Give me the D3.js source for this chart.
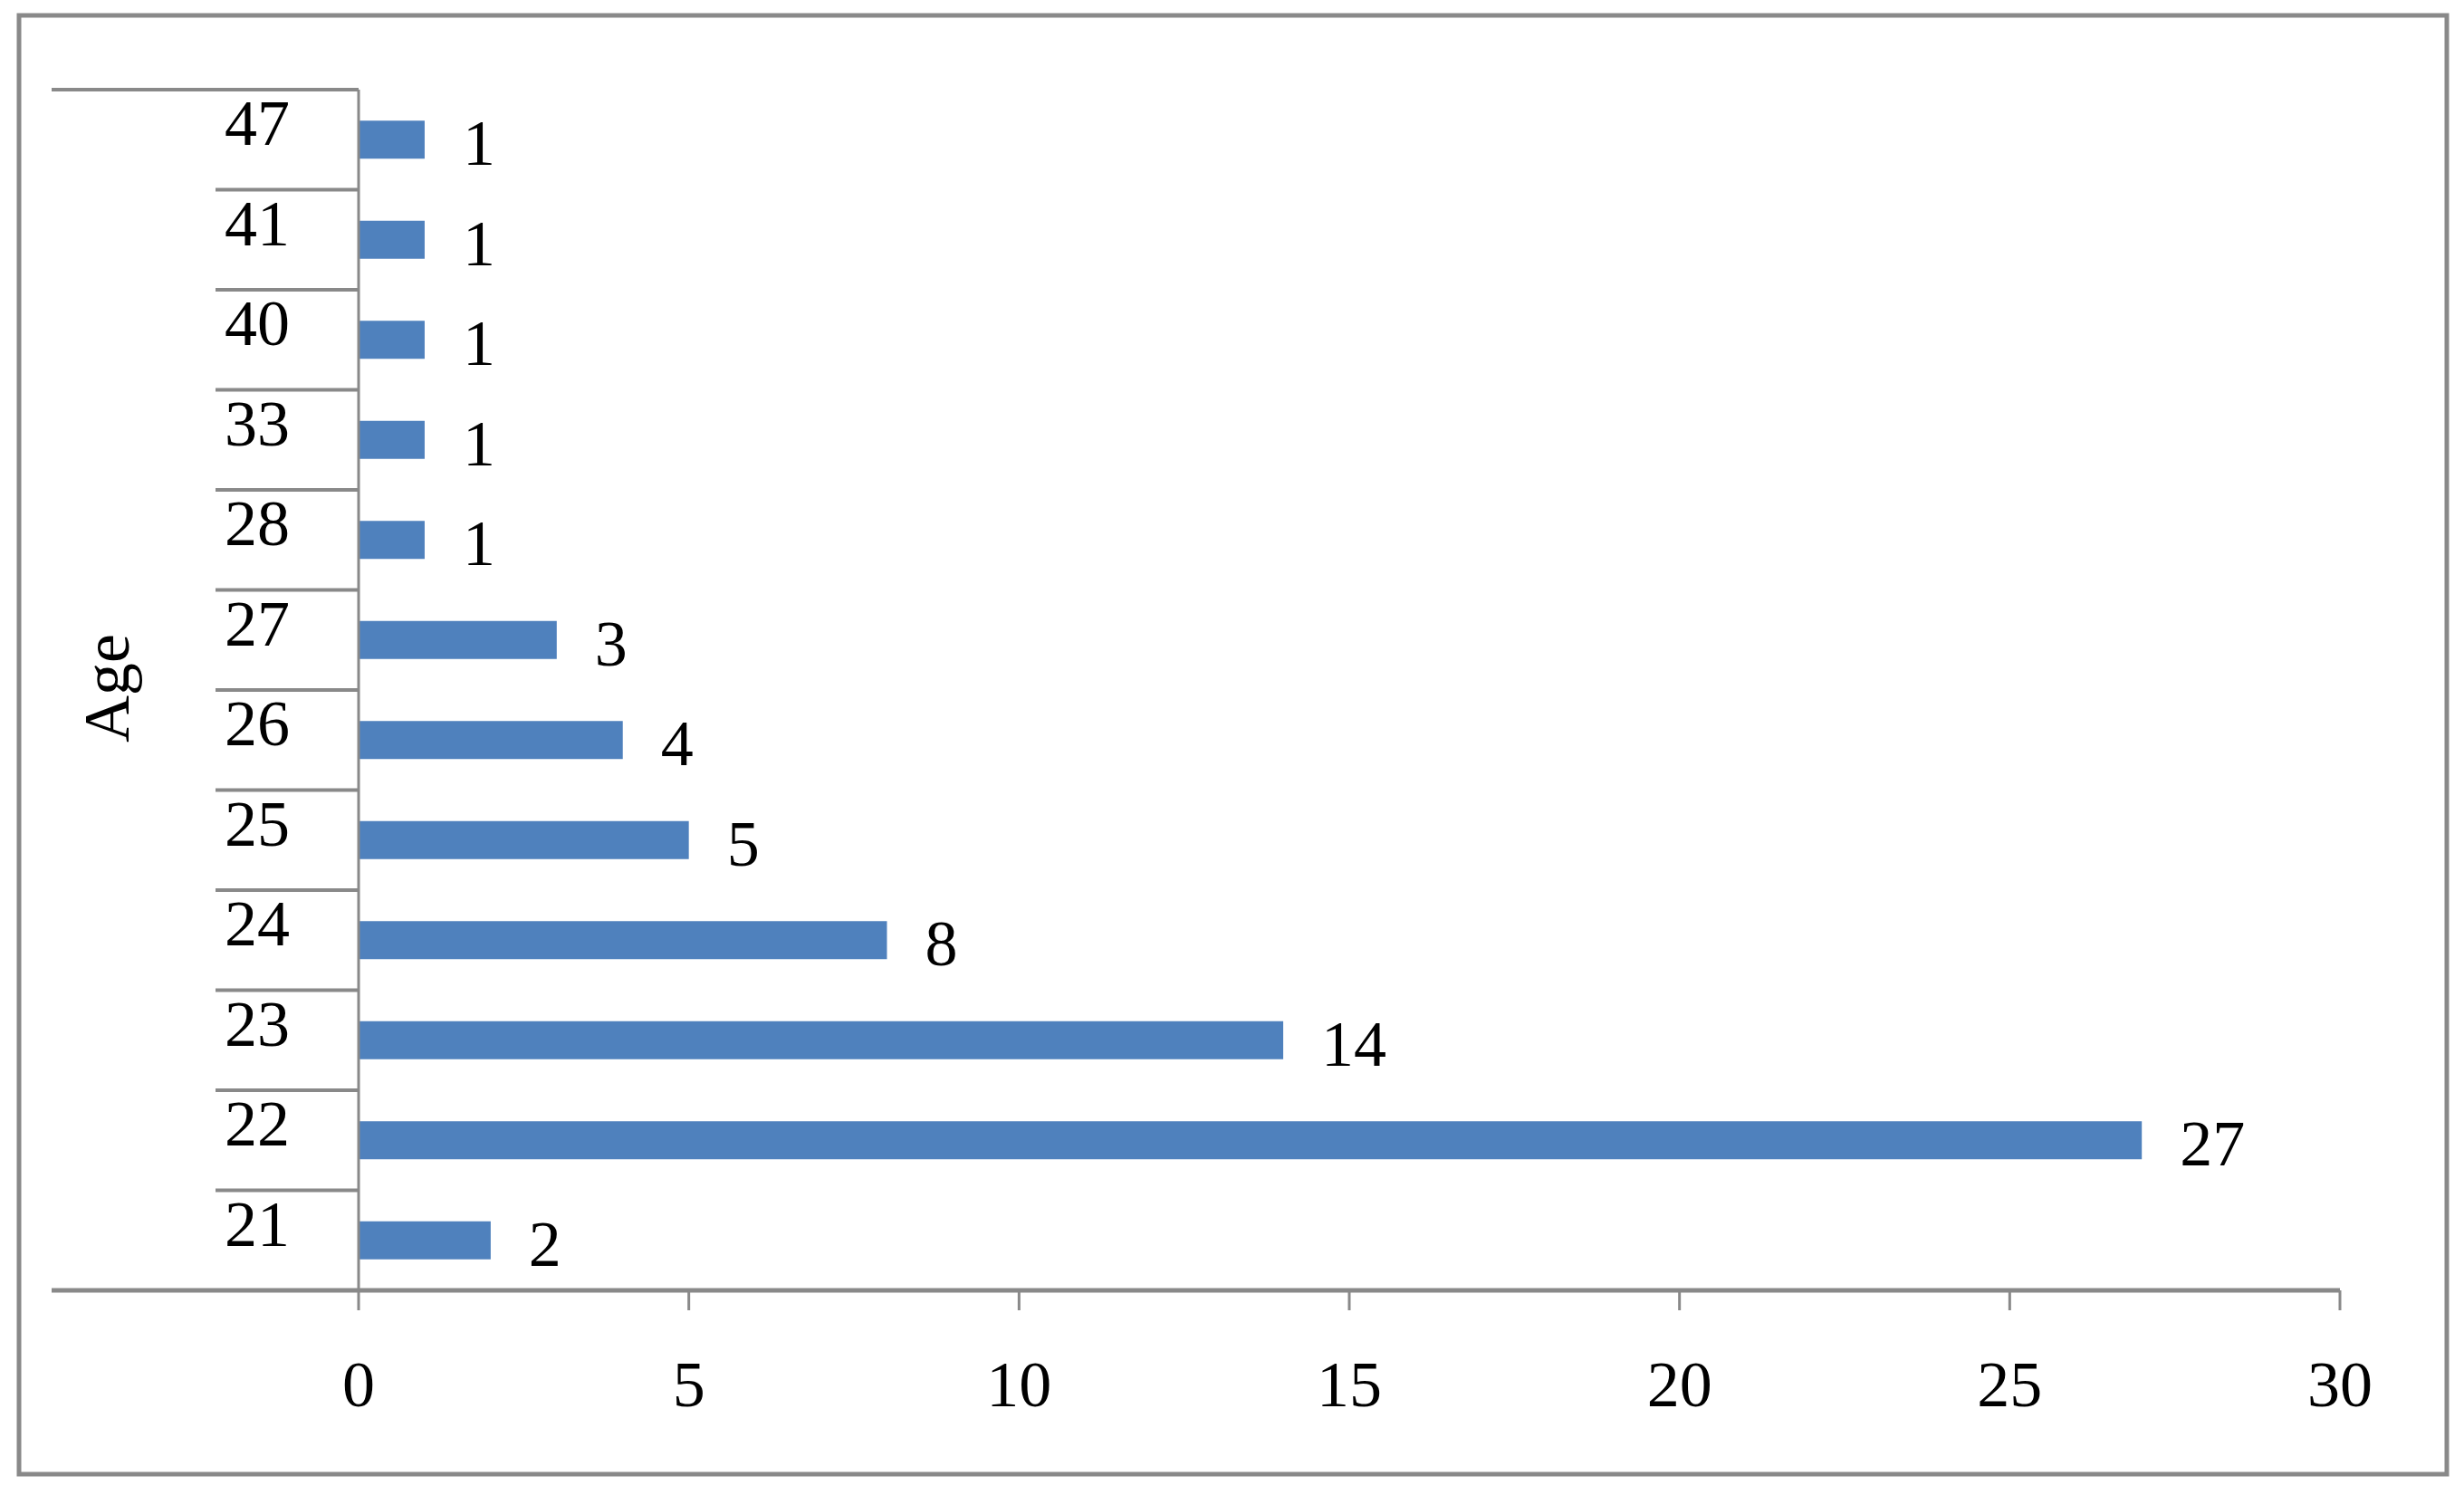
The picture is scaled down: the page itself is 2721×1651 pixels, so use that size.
<!DOCTYPE html><html><head><meta charset="utf-8"><script src="https://cdn.jsdelivr.net/npm/d3@7"></script>
<style>body{margin:0;background:#fff}</style></head><body><svg id="c" width="2721" height="1651"></svg>
<script>
const ages=["21","22","23","24","25","26","27","28","33","40","41","47"];
const counts=[2,27,14,8,5,4,3,1,1,1,1,1];
const xTicks=[0,5,10,15,20,25,30];
const svg=d3.select("#c");
const font="'Liberation Serif', serif";
const gray="#898989";
svg.append("rect").attr("x",21).attr("y",17).attr("width",2681).attr("height",1611).attr("fill","none").attr("stroke",gray).attr("stroke-width",5);
const x=d3.scaleLinear().domain([0,30]).range([396,2584]);
const y=d3.scaleBand().domain(ages.slice().reverse()).range([99,1425]).paddingInner(0.62).paddingOuter(0.31);
const band=(1425-99)/12;
// bars
svg.selectAll(".bar").data(ages).join("rect").attr("x",x(0)).attr("y",d=>y(d))
 .attr("width",(d,i)=>x(counts[i])-x(0)).attr("height",y.bandwidth()).attr("fill","#4f81bd");
svg.selectAll(".val").data(ages).join("text").attr("x",(d,i)=>x(counts[i])+42).attr("y",d=>y(d)+y.bandwidth()/2+28)
 .attr("font-family",font).attr("font-size",72).text((d,i)=>counts[i]);
// category labels
svg.selectAll(".cat").data(ages).join("text").attr("x",320).attr("y",d=>y(d)+y.bandwidth()/2+6)
 .attr("text-anchor","end").attr("font-family",font).attr("font-size",72).text(d=>d).attr("dx",0);
// separators
const seps=d3.range(1,12).map(i=>99+i*band);
svg.selectAll(".sep").data(seps).join("line").attr("x1",238).attr("x2",396).attr("y1",d=>d).attr("y2",d=>d).attr("stroke",gray).attr("stroke-width",4);
svg.append("line").attr("x1",57).attr("x2",396).attr("y1",99).attr("y2",99).attr("stroke",gray).attr("stroke-width",4);
svg.append("line").attr("x1",396).attr("x2",396).attr("y1",99).attr("y2",1425).attr("stroke",gray).attr("stroke-width",3);
// x axis
svg.append("line").attr("x1",57).attr("x2",2584).attr("y1",1425).attr("y2",1425).attr("stroke",gray).attr("stroke-width",5);
svg.selectAll(".tk").data(xTicks).join("line").attr("x1",d=>x(d)).attr("x2",d=>x(d)).attr("y1",1425).attr("y2",1447).attr("stroke",gray).attr("stroke-width",3);
svg.selectAll(".tl").data(xTicks).join("text").attr("x",d=>x(d)).attr("y",1553).attr("text-anchor","middle")
 .attr("font-family",font).attr("font-size",72).text(d=>d);
svg.append("text").attr("transform","translate(142,760) rotate(-90)").attr("text-anchor","middle")
 .attr("font-family",font).attr("font-size",72).text("Age");
</script></body></html>
